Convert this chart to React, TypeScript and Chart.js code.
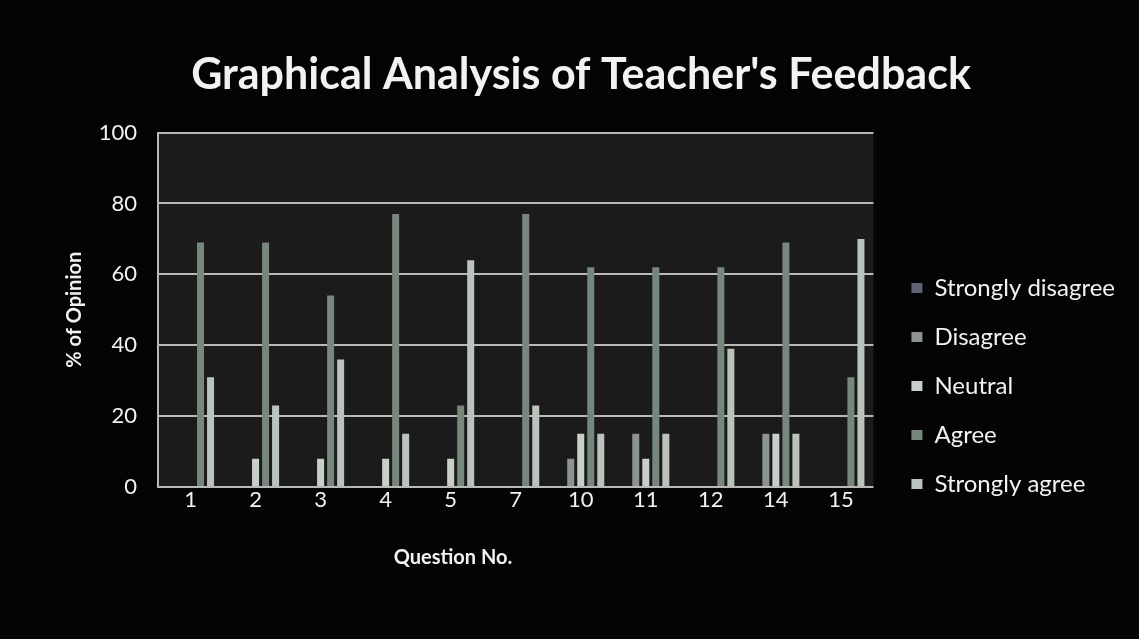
import React, { useEffect, useRef } from 'react';
import { Chart, registerables } from 'chart.js';

Chart.register(...registerables);

// ---- data ----
const questions = ['1', '2', '3', '4', '5', '7', '10', '11', '12', '14', '15'];
const seriesNames = ['Strongly disagree', 'Disagree', 'Neutral', 'Agree', 'Strongly agree'];
const stronglyDisagree = [0, 0, 0, 0, 0, 0, 0, 0, 0, 0, 0];
const disagree = [0, 0, 0, 0, 0, 0, 8, 15, 0, 15, 0];
const neutral = [0, 8, 8, 8, 8, 0, 15, 8, 0, 15, 0];
const agree = [69, 69, 54, 77, 23, 77, 62, 62, 62, 69, 31];
const stronglyAgree = [31, 23, 36, 15, 64, 23, 15, 15, 39, 15, 70];
const yTicks = [0, 20, 40, 60, 80, 100];
const xAxisTitle = 'Question No.';

const seriesColors = ['#5d6270', '#8b958e', '#c6cfc9', '#76877b', '#bac4bd'];
const textColor = '#f2f2f2';
const FONT = 'Lato, "Open Sans", sans-serif';

export default function App() {
  const ref = useRef<HTMLCanvasElement>(null);

  useEffect(() => {
    document.body.style.margin = '0';
    document.body.style.background = '#030303';
    const canvas = ref.current;
    if (!canvas) return;

    const bgPlugin = {
      id: 'bgPlugin',
      beforeDraw(chart: any) {
        const { ctx, chartArea: a, width, height } = chart;
        ctx.save();
        ctx.fillStyle = '#040404';
        ctx.fillRect(0, 0, width, height);
        ctx.fillStyle = '#1b1b1b';
        ctx.fillRect(a.left, a.top, a.right - a.left, a.bottom - a.top);
        ctx.restore();
      },
    };

    // leave a gap between the plot area and the legend
    const legendShift = {
      id: 'legendShift',
      afterLayout(chart: any) {
        const lg = chart.legend;
        if (lg) {
          lg.left += 13;
          lg.right += 13;
        }
      },
    };

    // x axis title sits left of centre in the original
    const xTitlePlugin = {
      id: 'xTitlePlugin',
      afterDraw(chart: any) {
        const { ctx, chartArea: a } = chart;
        ctx.save();
        ctx.fillStyle = textColor;
        ctx.font = 'bold 20px ' + FONT;
        ctx.textAlign = 'center';
        ctx.textBaseline = 'middle';
        ctx.fillText(xAxisTitle, a.left + 295, a.bottom + 71);
        ctx.restore();
      },
    };

    const values = [stronglyDisagree, disagree, neutral, agree, stronglyAgree];

    const chart = new Chart(canvas, {
      type: 'bar',
      data: {
        labels: questions,
        datasets: seriesNames.map((name, i) => ({
          label: name,
          data: values[i],
          backgroundColor: seriesColors[i],
          borderColor: seriesColors[i],
          borderWidth: 0,
          categoryPercentage: 0.77,
          barPercentage: 0.7,
        })),
      },
      options: {
        responsive: false,
        animation: false,
        layout: { padding: { left: 50, right: 27, top: 0, bottom: 65 }, autoPadding: false },
        plugins: {
          tooltip: { enabled: false },
          title: {
            display: true,
            text: "Graphical Analysis of Teacher's Feedback",
            color: textColor,
            font: { family: FONT, size: 43, weight: 'bold' },
            padding: { top: 49, bottom: 32 },
          },
          legend: {
            position: 'right',
            align: 'center',
            title: { display: true, text: ' ', padding: 93, font: { size: 10 } },
            labels: {
              color: textColor,
              boxWidth: 11,
              boxHeight: 10,
              padding: 25,
              font: { family: FONT, size: 24 },
            },
          },
        },
        scales: {
          x: {
            grid: { display: false, drawTicks: false },
            border: { display: false },
            ticks: { color: textColor, padding: 0, font: { family: FONT, size: 22 } },
            title: { display: false },
            afterFit: (s: any) => {
              s.height = 87;
            },
          },
          y: {
            min: 0,
            max: 100,
            afterBuildTicks: (s: any) => {
              s.ticks = yTicks.map((v) => ({ value: v }));
            },
            ticks: { color: textColor, padding: 21, font: { family: FONT, size: 22 } },
            grid: { color: '#b9b9b9', lineWidth: 2, drawTicks: false },
            border: { display: true, color: '#b9b9b9', width: 2 },
            title: {
              display: true,
              text: '% of Opinion',
              color: textColor,
              font: { family: FONT, size: 20, weight: 'bold' },
              padding: { top: 13, bottom: 0 },
            },
            afterFit: (s: any) => {
              s.width = 108;
            },
          },
        },
      },
      plugins: [bgPlugin, legendShift, xTitlePlugin],
    } as any);

    return () => chart.destroy();
  }, []);

  return (
    <div style={{ width: 1139, height: 639, background: '#030303' }}>
      <canvas ref={ref} width={1139} height={639} style={{ display: 'block' }} />
    </div>
  );
}
